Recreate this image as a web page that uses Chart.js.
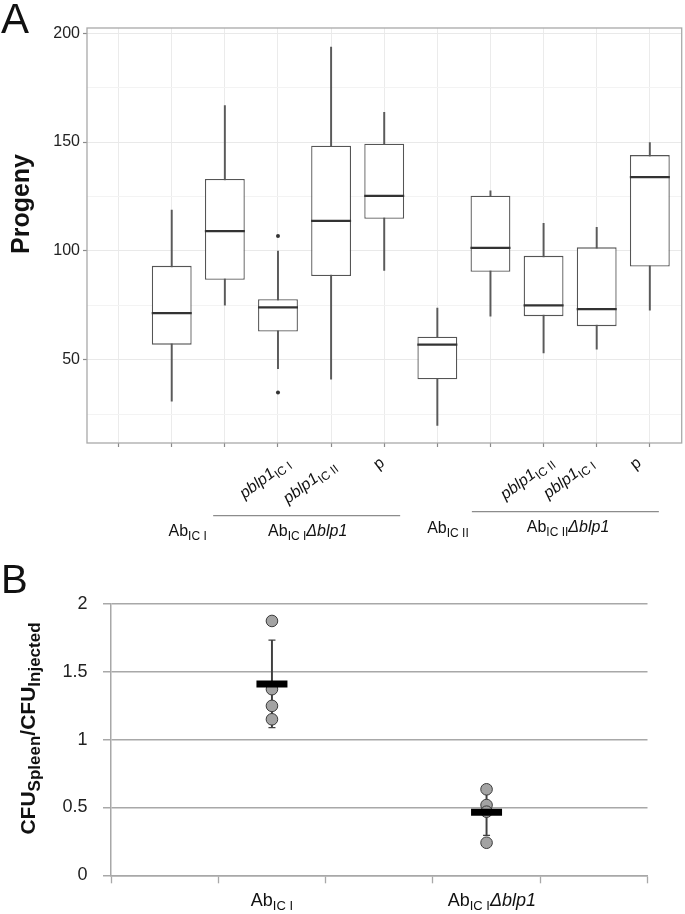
<!DOCTYPE html>
<html>
<head>
<meta charset="utf-8">
<title>Progeny and CFU ratio</title>
<script src="https://cdn.jsdelivr.net/npm/chart.js@4.4.0/dist/chart.umd.min.js"></script>
<style>
  html, body { margin: 0; padding: 0; background: #fff; }
  canvas { display: block; }
</style>
</head>
<body>
<canvas id="progenyChart" width="685" height="555"></canvas>
<canvas id="cfuChart" width="685" height="359"></canvas>
<script>
// ---- Panel A data: box plots of progeny (slot 0 is empty in the figure)
const boxSlots    = [1, 2, 3, 4, 5, 6, 7, 8, 9, 10];
const whiskerLow  = [30.9, 75.0, 45.9, 41.0, 91.0, 19.8, 70.0, 53.1, 54.8, 72.7];
const boxQ1       = [56.9, 86.7, 62.9, 88.4, 114.7, 41.0, 90.4, 70.0, 65.4, 92.8];
const boxMedian   = [71.4, 109.1, 74.0, 113.8, 125.3, 56.9, 101.4, 74.9, 73.2, 133.9];
const boxQ3       = [93.1, 133.0, 77.8, 148.3, 149.2, 60.5, 125.3, 97.7, 101.6, 144.0];
const whiskerHigh = [118.7, 166.7, 99.9, 193.6, 163.7, 73.7, 127.6, 112.6, 110.8, 149.7];
const outlierSlots  = [3, 3];
const outlierValues = [106.8, 34.9];
const progenyTicks  = [25, 50, 75, 100, 125, 150, 175, 200];
const slotTicks     = [0, 1, 2, 3, 4, 5, 6, 7, 8, 9, 10];

// ---- Panel B data: CFU spleen / CFU injected
const cfuGroups     = ['Ab IC I', 'Ab IC I Δblp1'];
const cfuSlots      = [1.5, 3.5];
const cfuAbICI      = [1.875, 1.372, 1.249, 1.150];
const cfuAbICIdelta = [0.634, 0.518, 0.469, 0.240];
const cfuMean       = [1.411, 0.465];
const cfuErrLow     = [1.088, 0.295];
const cfuErrHigh    = [1.733, 0.635];
const cfuTicks      = [0, 0.5, 1, 1.5, 2];
const cfuSlotTicks  = [0, 1, 2, 3, 4, 5];

// label texts (parts: sub = subscript, it = italic)
const abICI       = [{ t: 'Ab' }, { t: 'IC I', sub: true }];
const abICII      = [{ t: 'Ab' }, { t: 'IC II', sub: true }];
const abICIdelta  = [{ t: 'Ab' }, { t: 'IC I', sub: true }, { t: 'Δblp1', it: true }];
const abICIIdelta = [{ t: 'Ab' }, { t: 'IC II', sub: true }, { t: 'Δblp1', it: true }];
const pblpICI     = [{ t: 'pblp1', it: true }, { t: 'IC I', sub: true }];
const pblpICII    = [{ t: 'pblp1', it: true }, { t: 'IC II', sub: true }];
const pOnly       = [{ t: 'p' }];
const cfuTitle    = [{ t: 'CFU' }, { t: 'Spleen', sub: true }, { t: '/CFU' }, { t: 'Injected', sub: true }];

const FONT = "'Liberation Sans', Arial, sans-serif";

// draws text made of pieces (normal / italic / subscript), optionally rotated
function drawRich(ctx, parts, x, y, o) {
  const size = o.size || 16, subSize = o.subSize || 12, drop = o.drop || 4;
  const weight = o.bold ? 'bold ' : '';
  const fontFor = p => (p.it ? 'italic ' : '') + weight + (p.sub ? subSize : size) + 'px ' + FONT;
  ctx.save();
  let total = 0;
  const widths = parts.map(p => {
    ctx.font = fontFor(p);
    const w = ctx.measureText(p.t).width;
    total += w;
    return w;
  });
  ctx.translate(x, y);
  ctx.rotate(o.angle || 0);
  let cx = o.align === 'center' ? -total / 2 : o.align === 'right' ? -total : 0;
  ctx.textAlign = 'left';
  ctx.textBaseline = 'alphabetic';
  ctx.fillStyle = o.color || '#111';
  parts.forEach((p, i) => {
    ctx.font = fontFor(p);
    ctx.fillText(p.t, cx, p.sub ? drop : 0);
    cx += widths[i];
  });
  ctx.restore();
}

const tilt = -37 * Math.PI / 180;
// x given in slot units, "below" in px under the plot
const labelsA = [
  { parts: abICI, at: 1.30, below: 93, align: 'center' },
  { parts: abICIdelta, at: 3.56, below: 93, align: 'center' },
  { parts: abICII, at: 6.20, below: 90, align: 'center' },
  { parts: abICIIdelta, at: 8.46, below: 89, align: 'center' },
  { parts: pblpICI, at: 2.37, below: 56, angle: tilt },
  { parts: pblpICII, at: 3.19, below: 61, angle: tilt },
  { parts: pOnly, at: 4.89, below: 27, angle: tilt },
  { parts: pblpICII, at: 7.28, below: 57, angle: tilt },
  { parts: pblpICI, at: 8.09, below: 56, angle: tilt },
  { parts: pOnly, at: 9.72, below: 27, angle: tilt }
];
const bracketsA = [
  { from: 1.78, to: 5.30, below: 72.7 },
  { from: 6.65, to: 10.17, below: 68.7 }
];

const progenyDecor = {
  id: 'progenyDecor',
  afterDatasetsDraw(chart) {
    const { ctx, chartArea: a } = chart;
    ctx.save();
    ctx.strokeStyle = '#a9a9a9';
    ctx.lineWidth = 1.3;
    ctx.strokeRect(a.left, a.top, a.right - a.left, a.bottom - a.top);
    ctx.restore();
  },
  afterDraw(chart) {
    const { ctx, chartArea: a, scales: { x } } = chart;
    ctx.save();
    ctx.fillStyle = '#111';
    ctx.font = '42px ' + FONT;
    ctx.textAlign = 'left';
    ctx.textBaseline = 'alphabetic';
    ctx.fillText('A', 1, 33);
    // y title
    ctx.translate(22.5, 204);
    ctx.rotate(-Math.PI / 2);
    ctx.font = 'bold 25px ' + FONT;
    ctx.textAlign = 'center';
    ctx.textBaseline = 'middle';
    ctx.fillText('Progeny', 0, 0);
    ctx.restore();

    ctx.save();
    ctx.strokeStyle = '#8c8c8c';
    ctx.lineWidth = 1.3;
    bracketsA.forEach(b => {
      ctx.beginPath();
      ctx.moveTo(x.getPixelForValue(b.from), a.bottom + b.below);
      ctx.lineTo(x.getPixelForValue(b.to), a.bottom + b.below);
      ctx.stroke();
    });
    ctx.restore();

    labelsA.forEach(l => {
      drawRich(ctx, l.parts, x.getPixelForValue(l.at), a.bottom + l.below,
        { size: 16, subSize: 12, drop: 4, align: l.align || 'left', angle: l.angle || 0 });
    });
  }
};

new Chart(document.getElementById('progenyChart'), {
  type: 'bar',
  data: {
    datasets: [
      {
        label: 'Whiskers',
        data: boxSlots.map((s, i) => ({ x: s, y: [whiskerLow[i], whiskerHigh[i]] })),
        backgroundColor: '#5a5a5a',
        barThickness: 1.3,
        grouped: false,
        order: 4
      },
      {
        label: 'IQR',
        data: boxSlots.map((s, i) => ({ x: s, y: [boxQ1[i], boxQ3[i]] })),
        backgroundColor: '#ffffff',
        borderColor: '#555555',
        borderWidth: 1.3,
        borderSkipped: false,
        barPercentage: 0.75,
        categoryPercentage: 1,
        grouped: false,
        order: 3
      },
      {
        type: 'scatter',
        label: 'Median',
        data: boxSlots.map((s, i) => ({ x: s, y: boxMedian[i] })),
        pointStyle: 'line',
        pointRadius: 20,
        pointBorderWidth: 2.2,
        pointBorderColor: '#333333',
        order: 2
      },
      {
        type: 'scatter',
        label: 'Outliers',
        data: outlierSlots.map((s, i) => ({ x: s, y: outlierValues[i] })),
        pointRadius: 2,
        pointBackgroundColor: '#333333',
        pointBorderColor: '#333333',
        pointBorderWidth: 0,
        order: 1
      }
    ]
  },
  options: {
    responsive: false,
    animation: false,
    layout: { autoPadding: false, padding: { left: 0, right: 3.3, top: 28, bottom: 108 } },
    plugins: { legend: { display: false }, tooltip: { enabled: false } },
    scales: {
      x: {
        type: 'linear',
        min: -0.595,
        max: 10.6,
        offset: false,
        afterBuildTicks: axis => { axis.ticks = slotTicks.map(v => ({ value: v })); },
        afterFit: axis => { axis.height = 4; },
        border: { display: false },
        grid: { offset: false, color: '#ebebeb', lineWidth: 1, tickLength: 4, tickColor: '#8a8a8a', tickWidth: 1.2 },
        ticks: { display: false }
      },
      y: {
        min: 11.7,
        max: 202.4,
        afterBuildTicks: axis => { axis.ticks = progenyTicks.map(v => ({ value: v })); },
        afterFit: axis => { axis.width = 87; },
        border: { display: false },
        grid: {
          color: c => (c.tick && c.tick.value % 50 === 0) ? '#e9e9e9' : '#f3f3f3',
          lineWidth: 1,
          tickLength: 4,
          tickWidth: 1.2,
          tickColor: c => (c.tick && c.tick.value % 50 === 0) ? '#8a8a8a' : 'rgba(0,0,0,0)'
        },
        ticks: {
          padding: 3,
          color: '#222',
          font: { family: FONT, size: 16 },
          callback: v => (v % 50 === 0 ? String(v) : '')
        }
      }
    }
  },
  plugins: [progenyDecor]
});

// ---- Panel B
const cfuDecor = {
  id: 'cfuDecor',
  afterDraw(chart) {
    const { ctx, chartArea: a, scales: { x } } = chart;
    ctx.save();
    ctx.fillStyle = '#111';
    ctx.font = '40px ' + FONT;
    ctx.textAlign = 'left';
    ctx.textBaseline = 'alphabetic';
    ctx.fillText('B', 1, 38);
    ctx.restore();

    drawRich(ctx, cfuTitle, 35, 173.5,
      { size: 21, subSize: 17, drop: 5, bold: true, align: 'center', angle: -Math.PI / 2 });

    drawRich(ctx, abICI, x.getPixelForValue(cfuSlots[0]), a.bottom + 30.5,
      { size: 18, subSize: 13, drop: 4, align: 'center' });
    drawRich(ctx, abICIdelta, x.getPixelForValue(cfuSlots[1] + 0.05), a.bottom + 30.5,
      { size: 18, subSize: 13, drop: 4, align: 'center' });
  }
};

const ptsB = [cfuAbICI, cfuAbICIdelta];

new Chart(document.getElementById('cfuChart'), {
  type: 'bar',
  data: {
    datasets: [
      {
        label: 'SD',
        data: cfuSlots.map((s, i) => ({ x: s, y: [cfuErrLow[i], cfuErrHigh[i]] })),
        backgroundColor: '#404040',
        barThickness: 1.3,
        grouped: false,
        order: 4
      },
      {
        type: 'scatter',
        label: 'SD caps',
        data: cfuSlots.flatMap((s, i) => [{ x: s, y: cfuErrLow[i] }, { x: s, y: cfuErrHigh[i] }]),
        pointStyle: 'line',
        pointRadius: 3.5,
        pointBorderWidth: 1.3,
        pointBorderColor: '#404040',
        order: 4
      },
      {
        type: 'scatter',
        label: cfuGroups.join(' / '),
        data: cfuSlots.flatMap((s, i) => ptsB[i].map(v => ({ x: s, y: v }))),
        pointRadius: 5.8,
        pointBackgroundColor: '#a3a3a3',
        pointBorderColor: '#3a3a3a',
        pointBorderWidth: 1,
        order: 2
      },
      {
        type: 'scatter',
        label: 'Mean',
        data: cfuSlots.map((s, i) => ({ x: s, y: cfuMean[i] })),
        pointStyle: 'line',
        pointRadius: 15.5,
        pointBorderWidth: 7,
        pointBorderColor: '#000000',
        order: 1
      }
    ]
  },
  options: {
    responsive: false,
    animation: false,
    layout: { autoPadding: false, padding: { left: 0, right: 37.5, top: 49, bottom: 30.7 } },
    plugins: { legend: { display: false }, tooltip: { enabled: false } },
    scales: {
      x: {
        type: 'linear',
        min: 0,
        max: 5,
        offset: false,
        afterBuildTicks: axis => { axis.ticks = cfuSlotTicks.map(v => ({ value: v })); },
        afterFit: axis => { axis.height = 8; },
        border: { display: true, color: '#a8a8a8', width: 1.5 },
        grid: { offset: false, drawOnChartArea: false, tickLength: 8, tickColor: '#a8a8a8', tickWidth: 1.3 },
        ticks: { display: false }
      },
      y: {
        min: 0,
        max: 2,
        afterBuildTicks: axis => { axis.ticks = cfuTicks.map(v => ({ value: v })); },
        afterFit: axis => { axis.width = 111; },
        border: { display: true, color: '#a8a8a8', width: 1.5 },
        grid: { color: '#a8a8a8', lineWidth: 1.5, tickLength: 8, tickColor: '#a8a8a8', tickWidth: 1.5 },
        ticks: {
          padding: 15.5,
          color: '#222',
          font: { family: FONT, size: 18 },
          callback: v => String(v)
        }
      }
    }
  },
  plugins: [cfuDecor]
});
</script>
</body>
</html>
